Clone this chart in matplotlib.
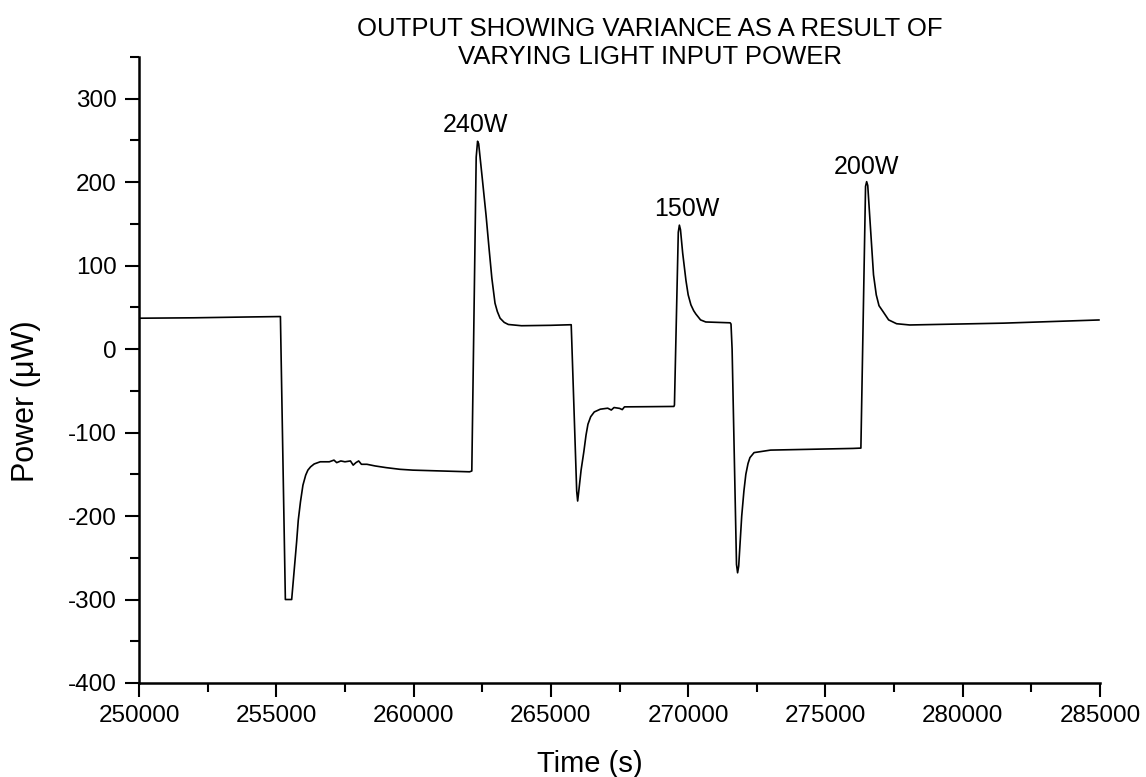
import numpy as np
import matplotlib.pyplot as plt
from matplotlib.ticker import MultipleLocator

plt.rcParams['font.family'] = ['Liberation Sans', 'DejaVu Sans']
plt.rcParams['axes.unicode_minus'] = False

# detector output
time_s = [
    250000, 252000, 254000, 255150, 255330, 255560, 255740, 255800, 255880,
    255970, 256070, 256150, 256250, 256380, 256600, 256930, 257100, 257200,
    257350, 257500, 257700, 257800, 257900, 258000, 258100, 258300, 258600,
    259000, 259500, 259970, 261000, 262040, 262120, 262280, 262330, 262370,
    262500, 262640, 262750, 262850, 262965, 263050, 263150, 263300, 263450,
    263930, 265000, 265740, 265760, 265940, 265975, 266010, 266100, 266200,
    266280, 266350, 266450, 266580, 266800, 267070, 267200, 267300, 267500,
    267600, 267680, 268500, 269480, 269500, 269640, 269680, 269720, 269800,
    269920, 270000, 270100, 270200, 270280, 270450, 270640, 271530, 271560,
    271600, 271760, 271800, 271840, 271950, 272030, 272100, 272180, 272250,
    272400, 273000, 276000, 276290, 276460, 276500, 276540, 276620, 276750,
    276850, 276950, 277100, 277300, 277590, 278070, 281490, 284960,
]
power_uW = [
    37, 37.5, 38.5, 39, -300, -300, -231, -205, -183,
    -163, -151, -145, -141, -137.6, -135, -135, -133, -136,
    -134, -135, -134, -139, -136, -134, -138, -138, -140,
    -142, -144, -145, -146, -147, -146, 230, 249, 246,
    205, 160, 120, 85, 55, 45, 37, 32, 29.5,
    28, 28.5, 29.2, 10, -170, -182, -172, -145, -123,
    -103, -90, -81, -75.3, -72, -70.8, -73, -70, -71,
    -72.5, -69.2, -69, -68.7, -67, 140, 148.5, 143, 115,
    82, 65, 53, 46, 42, 35, 32.5, 31.5, 30,
    0, -258, -268, -260, -200, -170, -150, -137, -130,
    -124, -121, -119, -118.6, 195, 200.6, 196, 155, 89,
    65, 52, 44.8, 35, 30.4, 28.9, 31.1, 34.9,
]

# lamp power labels next to each peak
lamp_labels = ['240W', '150W', '200W']
label_x = [262260, 269940, 276500]
label_y = [268, 168, 218]

fig = plt.figure(figsize=(11.46, 7.77), dpi=100)
ax = fig.add_axes([0.1213, 0.121, 0.8386, 0.8057])

ax.plot(time_s, power_uW, color='black', lw=1.2)

for txt, x, y in zip(lamp_labels, label_x, label_y):
    ax.text(x, y, txt, fontsize=18, ha='center', va='center')

ax.set_xlim(250000, 285000)
ax.set_ylim(-400, 350)
ax.xaxis.set_major_locator(MultipleLocator(5000))
ax.xaxis.set_minor_locator(MultipleLocator(2500))
ax.yaxis.set_major_locator(MultipleLocator(100))
ax.yaxis.set_minor_locator(MultipleLocator(50))

for side in ['top', 'right']:
    ax.spines[side].set_visible(False)
for side in ['left', 'bottom']:
    ax.spines[side].set_linewidth(1.8)

ax.tick_params(which='major', direction='out', length=10, width=1.5,
               labelsize=17.5, pad=6)
ax.tick_params(which='minor', direction='out', length=6.5, width=1.5)

fig.text(0.567, 0.945, 'OUTPUT SHOWING VARIANCE AS A RESULT OF\nVARYING LIGHT INPUT POWER',
         ha='center', va='center', fontsize=18.5, linespacing=1.2)
fig.text(0.515, 0.017, 'Time (s)', ha='center', va='center', fontsize=21)
fig.text(0.023, 0.484, 'Power (\u03bcW)', ha='center', va='center',
         fontsize=22, rotation=90)

fig.savefig('out.png', dpi=100)
